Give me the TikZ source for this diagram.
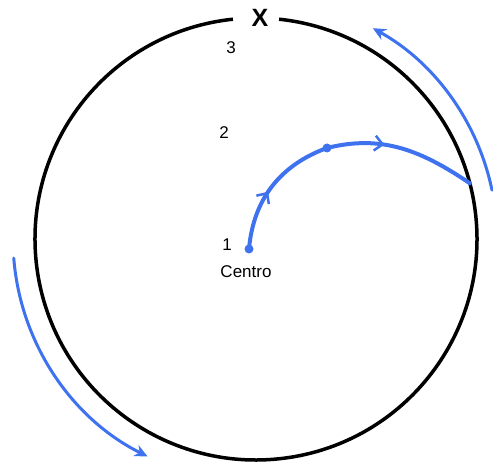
\documentclass[tikz,border=0pt]{standalone}
\usepackage{fontspec}
\setmainfont{Liberation Sans}
\usetikzlibrary{arrows.meta,decorations.markings}
\definecolor{trayecto}{RGB}{62,114,238}
\begin{document}
\begin{tikzpicture}[x=1pt, y=1pt, >={Stealth[length=13pt,width=12pt]},
	font=\fontsize{17}{17}\selectfont,
	orbita/.style={line width=3.5pt, black},
	recorrido/.style={line width=4pt, trayecto, line cap=round},
	giro/.style={line width=3pt, trayecto, ->, line cap=round},
	punto/.style={circle, fill=trayecto, inner sep=0pt, minimum size=9pt},
	flechamedia/.style={postaction={decorate}, decoration={markings,
		mark=at position #1 with {\arrow{Straight Barb[length=8pt,width=15pt,line width=2.5pt]}}}}]
	\useasboundingbox (0,0) rectangle (493,470);
	\coordinate (O) at (256,231);
	\draw[orbita] ([shift={(96:221)}]O) arc[start angle=96, end angle=444, radius=221];
	\node (cruz) at (260,452) {\fontsize{25}{25}\selectfont\bfseries X};
	\node (n3) at (231,422) {3};
	\node (n2) at (224,337) {2};
	\node (n1) at (227,225) {1};
	\node (lcentro) at (246,198) {Centro};
	\node[punto] (centro) at (249,221) {};
	\node[punto] (medio) at (327,322) {};
	\coordinate (borde) at ([shift={(14.6:221)}]O);
	\draw[recorrido, flechamedia=0.45] (centro.center) to[out=85, in=200] (medio.center);
	\draw[recorrido, flechamedia=0.38] (medio.center) to[out=14, in=146] (borde);
	\draw[giro] ([shift={(11.7:241)}]O) arc[start angle=11.7, end angle=61, radius=241];
	\draw[giro] ([shift={(184.5:243)}]O) arc[start angle=184.5, end angle=243.5, radius=243];
\end{tikzpicture}
\end{document}
